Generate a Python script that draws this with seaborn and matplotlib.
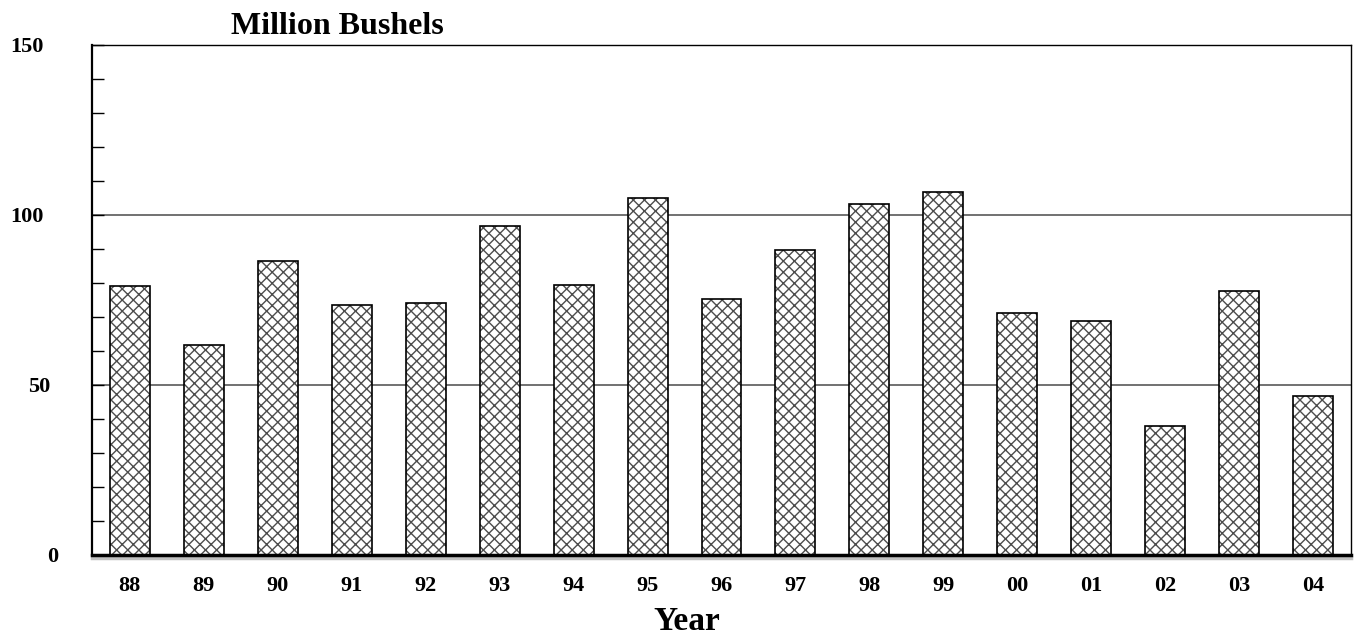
import matplotlib
matplotlib.use("Agg")
import matplotlib.pyplot as plt
import matplotlib.patheffects as pe
from matplotlib.transforms import ScaledTranslation, blended_transform_factory
import seaborn as sns
import pandas as pd

years = ['88', '89', '90', '91', '92', '93', '94', '95', '96', '97', '98', '99',
         '00', '01', '02', '03', '04']
values = [79.2, 61.9, 86.5, 73.5, 74.0, 96.7, 79.5, 105.0, 75.4, 89.7, 103.2, 106.8,
          71.2, 68.9, 38.0, 77.7, 46.8]
yticks = [0, 50, 100, 150]
ytick_labels = ['0', '50', '100', '150']
grid_values = [50, 100]

sns.set_theme(style="white")
plt.rcParams['font.family'] = ['Liberation Serif', 'DejaVu Serif']
plt.rcParams['hatch.linewidth'] = 1.0
plt.rcParams['text.color'] = 'black'
plt.rcParams['xtick.color'] = 'black'
plt.rcParams['ytick.color'] = 'black'
plt.rcParams['axes.labelcolor'] = 'black'

df = pd.DataFrame({'year': years, 'value': values})

fig = plt.figure(figsize=(13.55, 6.36), dpi=100)
ax = fig.add_axes([92 / 1355, 1 - 555 / 636, (1351 - 92) / 1355, (555 - 45) / 636])

# hatched fill (gray hatch)
sns.barplot(data=df, x='year', y='value', ax=ax, color='white', width=0.54,
            edgecolor='#4d4d4d', linewidth=0, hatch='xxx', zorder=1)
# black outlines
sns.barplot(data=df, x='year', y='value', ax=ax, width=0.54, fill=False,
            edgecolor='black', linewidth=1.2, zorder=1.2)

for g in grid_values:
    ax.axhline(g, color='#666666', lw=1.3, zorder=0.5)

ax.set_ylim(0, 150)
ax.set_xlim(-0.51, len(years) - 0.49)
ax.set_yticks(yticks)
ax.set_yticklabels(ytick_labels)
ax.set_yticks(range(0, 151, 10), minor=True)

ax.tick_params(axis='y', which='both', direction='in', length=8.5, width=1.0,
               color='black', left=True, right=False)
ax.tick_params(axis='x', which='major', direction='in', length=7, width=0.9,
               color='#333333', bottom=True, pad=15)

for lab in ax.get_xticklabels():
    lab.set_fontsize(16)
    lab.set_fontweight('bold')

offsets_px = {'0': -39, '50': -53, '100': -65, '150': -65}
for lab in ax.get_yticklabels():
    lab.set_fontsize(16)
    lab.set_fontweight('bold')
    lab.set_horizontalalignment('center')
for lab, txt in zip(ax.yaxis.get_majorticklabels(), ytick_labels):
    dx = offsets_px[txt] / 100.0
    lab.set_transform(blended_transform_factory(ax.transAxes, ax.transData)
                      + ScaledTranslation(dx, 0, fig.dpi_scale_trans))
    lab.set_x(0)

ax.set_xlabel('Year', fontsize=24, fontweight='bold')
ax.xaxis.set_label_coords((687 - 92) / 1259, (555 - 622) / 510)
ax.xaxis.label.set_verticalalignment('center')
ax.set_ylabel('')

for s in ['top', 'right']:
    ax.spines[s].set_color('black')
    ax.spines[s].set_linewidth(1.0)
ax.spines['left'].set_color('black')
ax.spines['left'].set_linewidth(1.6)
ax.spines['bottom'].set_color('black')
ax.spines['bottom'].set_linewidth(2.5)
ax.spines['bottom'].set_path_effects([pe.SimpleLineShadow(offset=(0, -2), shadow_color='#999999', alpha=0.6), pe.Normal()])

fig.text(337 / 1355, 1 - 34 / 636, 'Million Bushels', fontsize=23, fontweight='bold',
         ha='center', va='baseline')

fig.savefig('out.png', dpi=100)
